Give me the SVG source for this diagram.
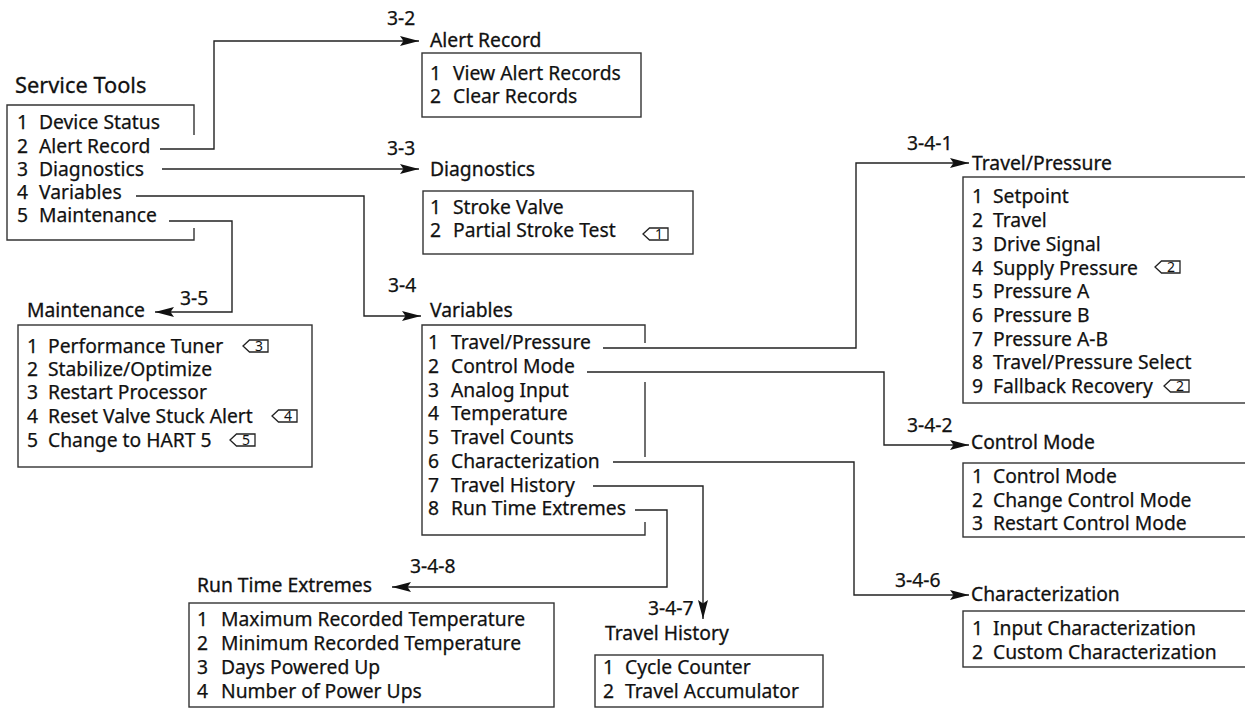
<svg xmlns="http://www.w3.org/2000/svg" width="1245" height="709" viewBox="0 0 1245 709">
<style>
.t{font-family:"Noto Sans","Open Sans",sans-serif;font-size:19.3px;fill:#111;stroke:#111;stroke-width:0.25}
.h{font-family:"Noto Sans","Open Sans",sans-serif;font-size:19.3px;fill:#111;stroke:#111;stroke-width:0.3}
.big{font-size:21.8px}
.box{fill:none;stroke:#333;stroke-width:1.4}
.c{fill:none;stroke:#222;stroke-width:1.4}
.ic{fill:#fff;stroke:#222;stroke-width:1.3}
.in{font-family:"Noto Sans","Open Sans",sans-serif;font-size:14px;fill:#111;text-anchor:middle}
</style>
<defs>
<marker id="ah" markerWidth="20" markerHeight="12" refX="19" refY="6" orient="auto" markerUnits="userSpaceOnUse">
<path d="M0,1 L19,6 L0,11 L3.5,6 Z" fill="#111"/>
</marker>
<polygon id="tag" points="0,6 6.5,0 25,0 25,12 6.5,12"/>
</defs>

<g id="connectors">
<polyline class="c" points="160,149 214,149 214,41 419,41" marker-end="url(#ah)"/>
<polyline class="c" points="162,169 419,169" marker-end="url(#ah)"/>
<polyline class="c" points="136,196 364,196 364,316 421,316" marker-end="url(#ah)"/>
<polyline class="c" points="169,221 232,221 232,312 155,312" marker-end="url(#ah)"/>
<polyline class="c" points="603,348 856,348 856,163 969,163" marker-end="url(#ah)"/>
<polyline class="c" points="587,372 884,372 884,445 969,445" marker-end="url(#ah)"/>
<polyline class="c" points="613,462 854,462 854,595 969,595" marker-end="url(#ah)"/>
<polyline class="c" points="593,486 703,486 703,619" marker-end="url(#ah)"/>
<polyline class="c" points="635,510 667,510 667,587 392,587" marker-end="url(#ah)"/>
<text class="t" x="387" y="25">3-2</text>
<text class="t" x="387" y="155">3-3</text>
<text class="t" x="388" y="292">3-4</text>
<text class="t" x="180" y="305">3-5</text>
<text class="t" x="907" y="150">3-4-1</text>
<text class="t" x="907" y="432">3-4-2</text>
<text class="t" x="895" y="587">3-4-6</text>
<text class="t" x="648" y="615">3-4-7</text>
<text class="t" x="410" y="573">3-4-8</text>
</g>

<g id="service-tools">
<text class="h big" x="15" y="93">Service Tools</text>
<path class="box" d="M194,135 V105 H7 V240 H194 V228"/>
<text class="t" y="129"><tspan x="17">1</tspan><tspan x="39">Device Status</tspan></text>
<text class="t" y="152.5"><tspan x="17">2</tspan><tspan x="39">Alert Record</tspan></text>
<text class="t" y="175.5"><tspan x="17">3</tspan><tspan x="39">Diagnostics</tspan></text>
<text class="t" y="199"><tspan x="17">4</tspan><tspan x="39">Variables</tspan></text>
<text class="t" y="222"><tspan x="17">5</tspan><tspan x="39">Maintenance</tspan></text>
</g>

<g id="alert-record">
<text class="h" x="430" y="47">Alert Record</text>
<rect class="box" x="422" y="53" width="219" height="64"/>
<text class="t" y="80"><tspan x="430">1</tspan><tspan x="453">View Alert Records</tspan></text>
<text class="t" y="103"><tspan x="430">2</tspan><tspan x="453">Clear Records</tspan></text>
</g>

<g id="diagnostics">
<text class="h" x="430" y="176">Diagnostics</text>
<rect class="box" x="423" y="191" width="270" height="63"/>
<text class="t" y="214"><tspan x="430">1</tspan><tspan x="453">Stroke Valve</tspan></text>
<text class="t" y="237"><tspan x="430">2</tspan><tspan x="453">Partial Stroke Test</tspan></text>
<use href="#tag" class="ic" x="643" y="228"/><text class="in" x="659" y="239">1</text>
</g>

<g id="maintenance">
<text class="h" x="27" y="317">Maintenance</text>
<rect class="box" x="18" y="325" width="294" height="142"/>
<text class="t" y="353"><tspan x="27">1</tspan><tspan x="48">Performance Tuner</tspan></text>
<text class="t" y="376"><tspan x="27">2</tspan><tspan x="48">Stabilize/Optimize</tspan></text>
<text class="t" y="399"><tspan x="27">3</tspan><tspan x="48">Restart Processor</tspan></text>
<text class="t" y="423"><tspan x="27">4</tspan><tspan x="48">Reset Valve Stuck Alert</tspan></text>
<text class="t" y="447"><tspan x="27">5</tspan><tspan x="48">Change to HART 5</tspan></text>
<use href="#tag" class="ic" x="243" y="340"/><text class="in" x="259" y="351">3</text>
<use href="#tag" class="ic" x="272" y="410"/><text class="in" x="288" y="421">4</text>
<use href="#tag" class="ic" x="230" y="434"/><text class="in" x="246" y="445">5</text>
</g>

<g id="variables">
<text class="h" x="430" y="317">Variables</text>
<path class="box" d="M645,343 V325 H422 V535 H645 V522 M645,382 V457"/>
<text class="t" y="349"><tspan x="428">1</tspan><tspan x="451">Travel/Pressure</tspan></text>
<text class="t" y="373"><tspan x="428">2</tspan><tspan x="451">Control Mode</tspan></text>
<text class="t" y="397"><tspan x="428">3</tspan><tspan x="451">Analog Input</tspan></text>
<text class="t" y="420"><tspan x="428">4</tspan><tspan x="451">Temperature</tspan></text>
<text class="t" y="444"><tspan x="428">5</tspan><tspan x="451">Travel Counts</tspan></text>
<text class="t" y="468"><tspan x="428">6</tspan><tspan x="451">Characterization</tspan></text>
<text class="t" y="492"><tspan x="428">7</tspan><tspan x="451">Travel History</tspan></text>
<text class="t" y="515"><tspan x="428">8</tspan><tspan x="451">Run Time Extremes</tspan></text>
</g>

<g id="travel-pressure">
<text class="h" x="972" y="170">Travel/Pressure</text>
<rect class="box" x="963" y="177" width="300" height="226"/>
<text class="t" y="203"><tspan x="972">1</tspan><tspan x="993">Setpoint</tspan></text>
<text class="t" y="227"><tspan x="972">2</tspan><tspan x="993">Travel</tspan></text>
<text class="t" y="251"><tspan x="972">3</tspan><tspan x="993">Drive Signal</tspan></text>
<text class="t" y="275"><tspan x="972">4</tspan><tspan x="993">Supply Pressure</tspan></text>
<text class="t" y="298"><tspan x="972">5</tspan><tspan x="993">Pressure A</tspan></text>
<text class="t" y="322"><tspan x="972">6</tspan><tspan x="993">Pressure B</tspan></text>
<text class="t" y="346"><tspan x="972">7</tspan><tspan x="993">Pressure A-B</tspan></text>
<text class="t" y="369"><tspan x="972">8</tspan><tspan x="993">Travel/Pressure Select</tspan></text>
<text class="t" y="393"><tspan x="972">9</tspan><tspan x="993">Fallback Recovery</tspan></text>
<use href="#tag" class="ic" x="1155" y="261"/><text class="in" x="1171" y="272">2</text>
<use href="#tag" class="ic" x="1164" y="380"/><text class="in" x="1180" y="391">2</text>
</g>

<g id="control-mode">
<text class="h" x="971" y="449">Control Mode</text>
<rect class="box" x="963" y="463" width="300" height="74"/>
<text class="t" y="483"><tspan x="972">1</tspan><tspan x="993">Control Mode</tspan></text>
<text class="t" y="507"><tspan x="972">2</tspan><tspan x="993">Change Control Mode</tspan></text>
<text class="t" y="530"><tspan x="972">3</tspan><tspan x="993">Restart Control Mode</tspan></text>
</g>

<g id="characterization">
<text class="h" x="971" y="601">Characterization</text>
<rect class="box" x="963" y="611" width="300" height="56"/>
<text class="t" y="635"><tspan x="972">1</tspan><tspan x="993">Input Characterization</tspan></text>
<text class="t" y="659"><tspan x="972">2</tspan><tspan x="993">Custom Characterization</tspan></text>
</g>

<g id="run-time-extremes">
<text class="h" x="197" y="592">Run Time Extremes</text>
<rect class="box" x="189" y="603" width="365" height="104"/>
<text class="t" y="626"><tspan x="197">1</tspan><tspan x="221">Maximum Recorded Temperature</tspan></text>
<text class="t" y="650"><tspan x="197">2</tspan><tspan x="221">Minimum Recorded Temperature</tspan></text>
<text class="t" y="674"><tspan x="197">3</tspan><tspan x="221">Days Powered Up</tspan></text>
<text class="t" y="698"><tspan x="197">4</tspan><tspan x="221">Number of Power Ups</tspan></text>
</g>

<g id="travel-history">
<text class="h" x="605" y="640">Travel History</text>
<rect class="box" x="595" y="655" width="228" height="52"/>
<text class="t" y="674"><tspan x="603">1</tspan><tspan x="625">Cycle Counter</tspan></text>
<text class="t" y="698"><tspan x="603">2</tspan><tspan x="625">Travel Accumulator</tspan></text>
</g>
</svg>
